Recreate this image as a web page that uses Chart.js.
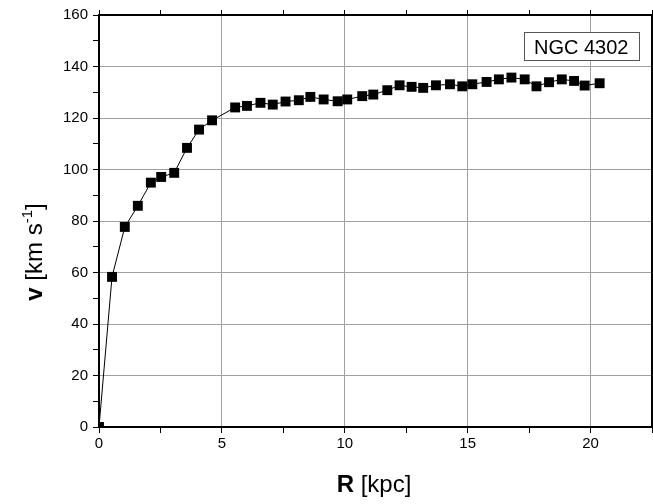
<!DOCTYPE html>
<html>
<head>
<meta charset="utf-8">
<script src="https://cdn.jsdelivr.net/npm/chart.js@4.4.0/dist/chart.umd.min.js"></script>
<style>
  html, body { margin: 0; padding: 0; background: #fff; }
  #wrap { width: 653px; height: 504px; }
</style>
</head>
<body>
<div id="wrap"><canvas id="rc" width="653" height="504"></canvas></div>
<script>
const radius = [0, 0.53, 1.05, 1.58, 2.11, 2.53, 3.06, 3.58, 4.07, 4.60,
    5.54, 6.02, 6.57, 7.07, 7.59, 8.13, 8.60, 9.14, 9.71, 10.10,
    10.71, 11.16, 11.73, 12.23, 12.72, 13.19, 13.71, 14.28, 14.78, 15.19,
    15.77, 16.27, 16.78, 17.32, 17.80, 18.31, 18.83, 19.33, 19.76, 20.37];
const velocity = [0, 58.3, 77.7, 85.9, 94.9, 97.1, 98.7, 108.4, 115.5, 119.1,
    124.1, 124.7, 125.9, 125.2, 126.4, 126.9, 128.2, 127.2, 126.5, 127.2,
    128.5, 129.1, 130.8, 132.7, 132.1, 131.7, 132.7, 133.1, 132.3, 133.1,
    134.0, 135.0, 135.7, 135.0, 132.3, 133.9, 135.0, 134.4, 132.6, 133.5];
const galaxyName = "NGC 4302";
const xRange = [0, 22.5];
const yRange = [0, 160];

const FONT = "'Liberation Sans', Arial, sans-serif";
const GRID = "#a0a0a0";

// Titulos de ejes y caja con el nombre
const textPlugin = {
    id: "textPlugin",
    afterDraw(chart) {
        const ctx = chart.ctx;
        ctx.save();
        ctx.fillStyle = "#000";
        ctx.textBaseline = "alphabetic";
        ctx.textAlign = "left";

        // Eje X: R [kpc]
        ctx.font = "bold 24px " + FONT;
        const wR = ctx.measureText("R").width;
        ctx.font = "24px " + FONT;
        const wRest = ctx.measureText(" [kpc]").width;
        let x0 = 374 - (wR + wRest) / 2;
        ctx.font = "bold 24px " + FONT;
        ctx.fillText("R", x0, 492);
        ctx.font = "24px " + FONT;
        ctx.fillText(" [kpc]", x0 + wR, 492);

        // Eje Y: v [km s^-1]
        ctx.translate(42, 252);
        ctx.rotate(-Math.PI / 2);
        ctx.font = "bold 24px " + FONT;
        const wv = ctx.measureText("v").width;
        ctx.font = "24px " + FONT;
        const wMid = ctx.measureText(" [km s").width;
        const wEnd = ctx.measureText("]").width;
        ctx.font = "15px " + FONT;
        const wSup = ctx.measureText("-1").width;
        let p = -(wv + wMid + wSup + wEnd) / 2;
        ctx.font = "bold 24px " + FONT;
        ctx.fillText("v", p, 0); p += wv;
        ctx.font = "24px " + FONT;
        ctx.fillText(" [km s", p, 0); p += wMid;
        ctx.font = "15px " + FONT;
        ctx.fillText("-1", p, -10); p += wSup;
        ctx.font = "24px " + FONT;
        ctx.fillText("]", p, 0);
        ctx.setTransform(1, 0, 0, 1, 0, 0);

        // Caja con el nombre de la galaxia
        ctx.fillStyle = "#fff";
        ctx.fillRect(524.5, 32.5, 115, 28);
        ctx.strokeStyle = "#555";
        ctx.lineWidth = 1;
        ctx.strokeRect(524.5, 32.5, 115, 28);
        ctx.fillStyle = "#000";
        ctx.font = "20px " + FONT;
        ctx.fillText(galaxyName, 534, 54);
        ctx.restore();
    }
};

const points = radius.map((r, i) => ({ x: r, y: velocity[i] }));

new Chart(document.getElementById("rc"), {
    type: "scatter",
    data: {
        datasets: [{
            data: points,
            showLine: true,
            borderColor: "#000",
            borderWidth: 1,
            pointStyle: "rect",
            pointRadius: 7,
            pointBackgroundColor: "#000",
            pointBorderWidth: 0,
        }]
    },
    options: {
        responsive: false,
        animation: false,
        layout: { padding: 0, autoPadding: false },
        plugins: {
            legend: { display: false },
            tooltip: { enabled: false },
        },
        scales: {
            x: {
                type: "linear",
                position: "bottom",
                min: xRange[0],
                max: xRange[1],
                afterFit: s => { s.height = 77; s.paddingLeft = 0; s.paddingRight = 0; },
                ticks: {
                    stepSize: 2.5,
                    autoSkip: false,
                    maxRotation: 0,
                    padding: 2,
                    color: "#000",
                    font: { family: FONT, size: 15 },
                    callback: v => (v % 5 === 0 ? v : ""),
                },
                grid: {
                    color: c => (c.tick && c.tick.value % 5 === 0 && c.tick.value > 0 ? GRID : "rgba(0,0,0,0)"),
                    tickColor: "#000",
                    tickLength: 6,
                    lineWidth: 1,
                },
                border: { color: "#000", width: 2 },
            },
            x2: {
                type: "linear",
                position: "top",
                min: xRange[0],
                max: xRange[1],
                afterFit: s => { s.height = 15; s.paddingLeft = 0; s.paddingRight = 0; },
                ticks: { stepSize: 2.5, display: false },
                grid: { drawOnChartArea: false, tickColor: "#000", tickLength: 5 },
                border: { color: "#000", width: 2 },
            },
            y: {
                type: "linear",
                position: "left",
                min: yRange[0],
                max: yRange[1],
                afterFit: s => { s.width = 99; },
                ticks: {
                    stepSize: 10,
                    autoSkip: false,
                    padding: 5,
                    color: "#000",
                    font: { family: FONT, size: 15 },
                    callback: v => (v % 20 === 0 ? v : ""),
                },
                grid: {
                    color: c => (c.tick && c.tick.value % 20 === 0 && c.tick.value > 0 && c.tick.value < 160 ? GRID : "rgba(0,0,0,0)"),
                    tickColor: "#000",
                    tickLength: 6,
                    lineWidth: 1,
                },
                border: { color: "#000", width: 2 },
            },
            y2: {
                type: "linear",
                position: "right",
                min: yRange[0],
                max: yRange[1],
                afterFit: s => { s.width = 1; },
                ticks: { display: false },
                grid: { drawOnChartArea: false, drawTicks: false },
                border: { color: "#000", width: 2 },
            },
        }
    },
    plugins: [textPlugin]
});
</script>
</body>
</html>
